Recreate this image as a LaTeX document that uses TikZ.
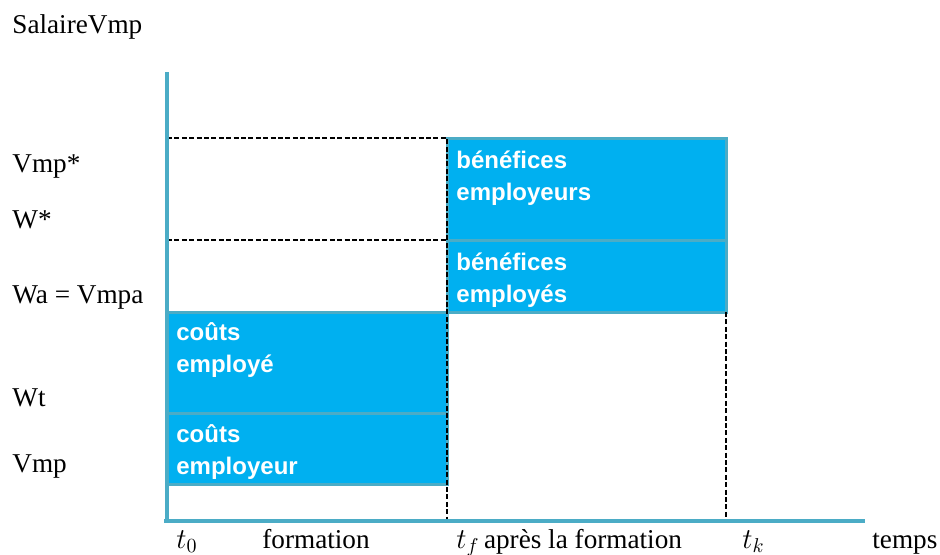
\documentclass[tikz,border=0pt]{standalone}
\usepackage{fontspec}
\setmainfont{Liberation Serif}
\setsansfont{Liberation Sans}
\definecolor{axiscolor}{RGB}{75,172,198}
\definecolor{boxcolor}{RGB}{0,176,240}

\begin{document}
\begin{tikzpicture}[
    x=0.5pt, y=0.5pt,
    axis/.style={draw=axiscolor, line width=2pt},
    area/.style={fill=boxcolor, draw=axiscolor, line width=1.5pt},
    guide/.style={draw=black, line width=0.6pt, dash pattern=on 2.5pt off 1.2pt},
    label/.style={font=\fontsize{13.6}{16}\selectfont, inner sep=0pt, anchor=base west},
    boxtext/.style={font=\fontsize{12}{16}\selectfont\sffamily\bfseries, text=white, align=left, inner sep=0pt, anchor=base west},
]
\useasboundingbox (0,0) rectangle (940,-554);

% Key points
\coordinate (origin) at (167,-521);
\coordinate (ytop) at (167,-72);
\coordinate (xstart) at (164,-521);
\coordinate (xend) at (865,-521);
\coordinate (vmpstar) at (167,-138);
\coordinate (wstar) at (167,-240);
\coordinate (tfvmp) at (447,-138);
\coordinate (tfw) at (447,-240);
\coordinate (tfbase) at (447,-521);
\coordinate (tkwa) at (726,-312);
\coordinate (tkbase) at (726,-521);

% Benefit areas
\draw[area] (447,-138) rectangle (726,-240);
\draw[area] (447,-240) rectangle (726,-312);

% Cost areas
\draw[area] (167,-312) rectangle (447,-413);
\draw[area] (167,-413) rectangle (447,-484);

% base = last line
\node[boxtext] (benemployeurs) at (456,-200) {bénéfices\\employeurs};
\node[boxtext] (benemployes) at (456,-302) {bénéfices\\employés};
\node[boxtext] (coutemploye) at (176,-372) {coûts\\employé};
\node[boxtext] (coutemployeur) at (176,-474) {coûts\\employeur};

% Guides
\draw[guide] (vmpstar) -- (tfvmp) -- (tfbase);
\draw[guide] (wstar) -- (tfw);
\draw[guide] (tkwa) -- (tkbase);

% Axes
\draw[axis] (ytop) -- (origin);
\draw[axis] (xstart) -- (xend);

% Wage levels
\node[label] (ylabel) at (12,-33) {SalaireVmp};
\node[label] (lvmpstar) at (12,-172) {Vmp*};
\node[label] (lwstar) at (12,-228) {W*};
\node[label] (lwa) at (12,-303) {Wa = Vmpa};
\node[label] (lwt) at (12,-406) {Wt};
\node[label] (lvmp) at (12,-472) {Vmp};

% Time
\node[label] (tzero) at (176,-548) {$t_0$};
\node[label] (form) at (262,-548) {formation};
\node[label] (tf) at (456,-548) {$t_f$\,après la formation};
\node[label] (tk) at (742,-548) {$t_k$};
\node[label] (xlabel) at (872,-548) {temps};

\end{tikzpicture}
\end{document}
